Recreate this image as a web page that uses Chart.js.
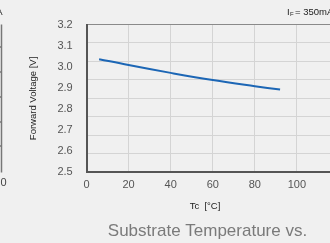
<!DOCTYPE html>
<html>
<head>
<meta charset="utf-8">
<script src="https://cdn.jsdelivr.net/npm/chart.js@4"></script>
<style>
  body { margin: 0; background: #f0f0f0; }
  #wrap { width: 330px; height: 243px; overflow: hidden; position: relative; }
  #wrap canvas { position: absolute; left: 0; top: 0; }
</style>
</head>
<body>
<div id="wrap"><canvas id="myChart" width="415" height="243"></canvas></div>
<script>
const temps = [6, 20, 40, 60, 80, 92];
const vf = [3.036, 3.008, 2.971, 2.937, 2.908, 2.892];
const xTicks = [0, 20, 40, 60, 80, 100, 120];
const yTicks = [2.5, 2.6, 2.7, 2.8, 2.9, 3.0, 3.1, 3.2];
const captionText = 'Substrate Temperature vs. Forward Voltage';

const font = "'Liberation Sans', Arial, sans-serif";

// extra texts that sit outside the plot area
const extras = {
  id: 'extras',
  afterDraw(chart) {
    const c = chart.ctx;
    const a = chart.chartArea;
    c.save();
    c.fillStyle = '#222';
    c.textBaseline = 'middle';
    c.textAlign = 'center';
    c.font = '9.5px ' + font;
    c.fillText('Tc  [°C]', 205, 206.5);
    // I_F = 350mA
    c.textAlign = 'left';
    c.fillText('I', 287, 12);
    c.font = '6px ' + font;
    c.fillText('F', 290, 14);
    c.font = '9.5px ' + font;
    c.fillText('= 350mA', 295, 12);
    // neighbouring chart fragment on the left
    c.strokeStyle = '#777';
    c.lineWidth = 1.5;
    c.beginPath();
    c.moveTo(1.5, a.top);
    c.lineTo(1.5, a.bottom);
    [47, 72, 97, 122, 146].forEach(y => { c.moveTo(0, y); c.lineTo(1.5, y); });
    c.stroke();
    c.fillStyle = '#444';
    c.font = '11px ' + font;
    c.textAlign = 'right';
    c.fillText('100', 6.5, 183);
    c.fillStyle = '#222';
    c.font = '9.5px ' + font;
    c.fillText('mA', 2.5, 12);
    c.restore();
  }
};

const ctx = document.getElementById('myChart').getContext('2d');
const myChart = new Chart(ctx, {
  type: 'line',
  data: {
    datasets: [{
      data: temps.map((t, i) => ({ x: t, y: vf[i] })),
      borderColor: '#1c66b5',
      borderWidth: 2,
      pointRadius: 0,
      tension: 0.4,
      fill: false
    }]
  },
  options: {
    responsive: false,
    animation: false,
    layout: { padding: { left: 0, right: 0, top: 24.5, bottom: 1.5 } },
    plugins: {
      legend: { display: false },
      tooltip: { enabled: false },
      title: {
        display: true,
        position: 'bottom',
        text: captionText.slice(0, 25),
        color: '#7a7a7a',
        font: { family: font, size: 17, weight: 'normal' },
        padding: { top: 24.5, bottom: 0 }
      }
    },
    scales: {
      x: {
        type: 'linear',
        min: xTicks[0],
        max: xTicks[xTicks.length - 1],
        afterBuildTicks: s => { s.ticks = xTicks.map(v => ({ value: v })); },
        grid: { color: '#d4d4d4', drawTicks: false },
        border: { color: '#555', width: 2 },
        ticks: { color: '#555', padding: 5.5, font: { family: font, size: 11 } }
      },
      y: {
        min: yTicks[0],
        max: yTicks[yTicks.length - 1],
        afterBuildTicks: s => { s.ticks = yTicks.map(v => ({ value: v })); },
        afterFit: s => { s.width = 86.5; },
        grid: { display: false, drawTicks: false },
        border: { color: '#555', width: 2 },
        ticks: {
          color: '#555', padding: 13.8, font: { family: font, size: 11 },
          callback: v => v.toFixed(1)
        },
        title: {
          display: true,
          text: 'Forward Voltage [V]',
          color: '#222',
          font: { family: font, size: 9.5 },
          padding: { top: 28, bottom: 0 }
        }
      },
      grid8: {
        position: 'right',
        min: 0,
        max: 8,
        afterFit: s => { s.width = 76; },
        ticks: { display: false, stepSize: 1 },
        grid: {
          drawTicks: false,
          color: c => c.tick.value === 8 ? '#8a8a8a' : '#d4d4d4'
        },
        border: { display: false }
      }
    }
  },
  plugins: [extras]
});
</script>
</body>
</html>
